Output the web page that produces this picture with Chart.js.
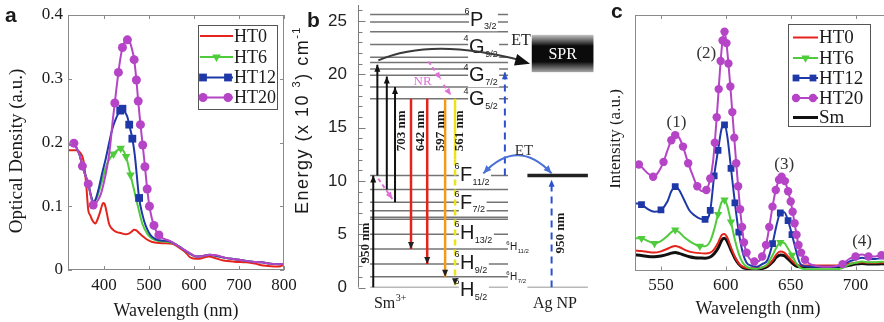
<!DOCTYPE html>
<html>
<head>
<meta charset="utf-8">
<script src="https://cdn.jsdelivr.net/npm/chart.js@4.4.1/dist/chart.umd.min.js"></script>
<style>
  html, body { margin: 0; padding: 0; background: #fff; overflow: hidden; }
  #wrap { position: relative; width: 884px; height: 322px; overflow: hidden; }
  canvas { position: absolute; top: 0; }
  #absorb { left: 0; }
  #levels { left: 290px; }
  #emission { left: 610px; }
</style>
</head>
<body>
<div id="wrap">
  <canvas id="absorb" width="300" height="322"></canvas>
  <canvas id="levels" width="320" height="322"></canvas>
  <canvas id="emission" width="290" height="322"></canvas>
</div>
<script>
// ---- (a) absorption spectra ----
const aXTicks = [400, 500, 600, 700, 800];
const aYTicks = [0, 0.1, 0.2, 0.3, 0.4];

const a0Wl = [320,330,337,343,348,352,356,359,361,363,365,370,374,381,386,390,395,398,401,404,408,411,416,422,430,437,448,455,461,467,472,478,486,493,500,507,530,552,567,581,591,600,610,620,632,650,665,690,717,735,754,770,784,792,800];
const a0Od = [0.188,0.188,0.188,0.187,0.183,0.178,0.165,0.145,0.13,0.11,0.094,0.085,0.078,0.073,0.08,0.088,0.1,0.105,0.104,0.097,0.083,0.073,0.066,0.062,0.059,0.058,0.056,0.057,0.06,0.063,0.062,0.058,0.053,0.049,0.046,0.044,0.042,0.041,0.035,0.028,0.02,0.018,0.0175,0.019,0.021,0.018,0.015,0.013,0.012,0.01,0.007,0.006,0.0055,0.006,0.008];

const a6Wl = [320,326,333,340,346,352,358,365,371,376,385,396,407,414,421,430,437,444,449,452,459,467,474,485,496,507,518,530,545,560,575,590,605,620,635,650,670,690,710,730,750,770,790,800];
const a6Od = [0.196,0.198,0.199,0.19,0.18,0.163,0.15,0.135,0.116,0.106,0.115,0.141,0.167,0.176,0.182,0.188,0.191,0.186,0.178,0.17,0.149,0.125,0.104,0.073,0.057,0.049,0.046,0.045,0.044,0.04,0.033,0.026,0.021,0.022,0.024,0.022,0.019,0.017,0.015,0.013,0.012,0.01,0.009,0.01];
const a6Marks = [421, 437, 449, 459];

const a12Wl = [320,326,333,340,346,352,358,365,371,376,382,389,396,404,411,418,424,430,436,441,448,452,456,460,463,467,470,474,478,485,490,496,503,511,520,530,545,560,575,590,605,620,635,650,670,690,710,730,750,770,790,800];
const a12Od = [0.196,0.198,0.199,0.19,0.18,0.163,0.15,0.135,0.117,0.107,0.112,0.13,0.152,0.175,0.198,0.22,0.233,0.243,0.25,0.253,0.246,0.24,0.228,0.216,0.206,0.188,0.17,0.14,0.113,0.088,0.075,0.064,0.055,0.05,0.047,0.046,0.045,0.04,0.033,0.026,0.021,0.022,0.024,0.022,0.019,0.017,0.015,0.013,0.012,0.01,0.009,0.01];
const a12Marks = [436, 441, 456, 463, 478];

const a20Wl = [320,326,333,340,346,352,358,365,371,376,381,387,393,400,407,413,419,424,428,432,436,441,446,452,457,462,467,472,476,481,486,491,496,501,506,511,516,522,530,545,560,575,590,605,620,635,650,670,690,710,730,750,770,790,800];
const a20Od = [0.196,0.198,0.199,0.19,0.18,0.163,0.15,0.135,0.115,0.102,0.104,0.11,0.119,0.138,0.162,0.19,0.232,0.262,0.287,0.31,0.33,0.349,0.358,0.361,0.358,0.347,0.33,0.298,0.265,0.228,0.196,0.162,0.127,0.1,0.082,0.07,0.061,0.055,0.05,0.046,0.04,0.033,0.027,0.021,0.022,0.024,0.023,0.019,0.017,0.015,0.013,0.012,0.01,0.009,0.01];
const a20Marks = [333, 352, 365, 376, 424, 432, 441, 452, 467, 472, 476, 481, 486, 491, 496, 501, 511, 522];

// ---- (c) emission spectra (arbitrary intensity, 0-100) ----
const cXTicks = [550, 600, 650, 700];
const cWl = [530,535,540,545,550,555,558,561,564,568,572,576,580,584,588,591,594,597,599,601,604,607,610,613,616,620,624,628,632,636,639,642,645,648,651,654,657,660,665,670,675,680,685,690,695,700,705,710,715,720,725];
const cHT0 = [7.8,7.6,7.2,7.0,7.5,8.5,9.2,9.6,9.2,8.2,7.4,7.0,6.8,6.7,7.0,8.3,10.8,14.0,14.3,13.0,9.0,5.4,2.8,1.5,1.0,0.9,0.9,1.2,2.0,4.0,6.3,7.4,7.0,5.5,3.8,2.5,2.0,2.0,2.0,2.0,2.0,2.0,2.0,2.1,2.6,3.0,3.2,3.0,3.0,3.1,3.0];
const cHT6 = [12.6,12.6,11.5,10.6,11.5,13.5,15.0,15.9,15.0,13.0,11.5,10.3,9.5,9.5,11.5,16.0,22.0,27.0,27.6,25.5,19.0,12.0,6.5,3.0,1.5,0.8,0.7,1.2,2.5,6.0,9.0,11.0,10.8,8.5,6.0,3.0,1.2,0.6,0.5,0.5,0.5,0.5,0.5,1.0,2.3,3.0,3.5,3.2,3.2,3.4,3.2];
const cHT12 = [26.3,25.8,24.0,23.0,23.7,27.0,31.0,32.8,31.5,27.5,23.5,21.5,20.3,20.0,23.5,37.0,47.0,56.0,57.0,53.0,40.0,26.5,15.0,7.0,3.0,1.8,1.5,2.5,4.0,10.5,17.5,22.5,22.8,19.5,14.0,8.0,3.0,1.8,1.5,1.5,1.5,1.5,1.5,2.2,3.5,4.3,5.0,4.5,4.5,4.8,4.5];
const cSm = [6.1,5.9,5.5,5.4,5.7,6.3,6.8,7.0,6.7,6.0,5.4,5.0,4.9,4.8,5.3,6.6,8.7,12.0,12.6,11.5,8.0,4.8,2.5,1.2,0.7,0.5,0.5,0.8,1.6,3.3,5.2,6.1,5.8,4.5,3.0,1.8,1.5,1.5,1.5,1.5,1.5,1.5,1.5,1.5,2.0,2.5,2.7,2.5,2.5,2.6,2.5];
const c20Wl = [530,533,536,540,544,548,552,555,558,561,564,567,571,575,578,582,585,588,590,591.5,593,594.5,596,597.5,599,600.5,602,603.5,605,606.5,608,609.5,611,612.5,614,616,618.5,622,625,628,631,633.5,636,638.5,641,643,645.5,648,650,651.5,653,654.5,656,658,661,665,670,675,680,685,690,695,700,705,710,715,720,725];
const cHT20 = [42,41.5,40,38,36.7,38.5,42.5,47,51,53,52,48.5,42,36.5,33,31,31.5,36,42,50,60,71,82,90,93.5,89,81,72,62,52,42,33,24,17,11,7,4.5,3.5,3.6,5.5,10,17,25,31.5,35.5,36.7,35,31,27,23,18.5,14,10,7,4.2,2.5,1.8,1.5,1.5,1.8,2.5,4.5,5.5,6.3,5.5,5.5,6,5.5];
const c6Marks = [535, 545, 561, 580, 594, 599, 604, 642, 651];
const c12Marks = [535, 550, 561, 584, 588, 591, 594, 599, 604, 607, 610, 636, 642, 648, 651];
const c20Marks = [533,544,552,558,561,567,571,578,585,588,591.5,593,594.5,596,597.5,599,600.5,602,603.5,605,606.5,608,609.5,611,612.5,614,616,622,628,631,633.5,636,638.5,641,643,645.5,648,650,651.5,653,654.5,656,658,661,690,700,710,720];
const peakTags = ['(1)', '(2)', '(3)', '(4)'];
const peakWl = [562, 585, 645, 705];
const peakAt = [58, 85, 41.3, 11.4];

// ---- (b) Sm3+ / Ag NP energy levels (x 10^3 cm^-1) ----
const bYTicks = [0, 5, 10, 15, 20, 25];
const smLevels = [0, 1.0, 2.2, 3.6, 5.0, 6.4, 6.6, 7.2, 8.0, 9.2, 10.5, 17.7, 18.8, 19.9, 20.5, 21.1, 21.6, 22.8, 24.0, 24.9, 25.6];
const agGround = 0, agLevel = 10.5;
const pumpE = [0, 10.5];
const excFrom = [10.5, 9.2, 8.0];
const excTo = [20.9, 19.8, 18.8];
const emitFrom = 17.7;
const emitTo = [3.6, 2.2, 1.0, 0.2];
const emitTags = ['703 nm', '642 nm', '597 nm', '561 nm'];
const termSup = ['6', '4', '4', '4', '6', '6', '6', '6', '6'];
const termMain = ['P', 'G', 'G', 'G', 'F', 'F', 'H', 'H', 'H'];
const termSub = ['3/2', '9/2', '7/2', '5/2', '11/2', '7/2', '13/2', '9/2', '5/2'];
const termE = [25.25, 22.67, 20.0, 17.75, 10.63, 8.05, 5.23, 2.42, -0.14];
const minorSub = ['11/2', '7/2'];
const minorE = [3.83, 1.0];

// diagram layout, x in 0..100 units
const LB = {
  sm: [5, 62], ag: [70, 95],
  pumpX: 6.3, excX: [8, 11.9, 15.3], emitX: [21.9, 28.6, 36, 40.1],
  tagX: [18.2, 26.0, 34.1, 41.9], tagE: 14.7,
  yellowBreak: 12,
  etUpX: 60.7, etUpTop: 20.2, agPumpX: 80, agPumpTop: 10.1,
  spr: [71.8, 97.3, 23.7, 20.2],
  termX: [46.3, 45.9, 45.9, 45.9, 42.1, 42.1, 42.1, 42.1, 42.1],
  minorX: 62.8,
  nr: [[8.4, 10.2, 14.2, 8.3], [29.1, 21.2, 34.2, 19.55], [35.4, 19.0, 38.4, 18.05]]
};

const SERIF = "'Liberation Serif', 'Times New Roman', serif";
const SANS = "'Liberation Sans', Arial, sans-serif";
const RED = '#e5231d', GREEN = '#4fcb3c', BLUE = '#1f38a8', MAGENTA = '#b545c6', BLACK = '#111111';
const INK = '#1a1a1a';

Chart.defaults.font.family = SERIF;
Chart.defaults.font.size = 17;
Chart.defaults.color = INK;
Chart.defaults.animation = false;
Chart.defaults.events = [];
Chart.defaults.plugins.legend.display = false;
Chart.defaults.plugins.tooltip.enabled = false;

function series(label, wl, val, color, o) {
  const marks = o.marks || [];
  return {
    label,
    data: wl.map((x, i) => ({ x, y: val[i] })),
    borderColor: color, backgroundColor: color, borderWidth: o.width || 2,
    pointStyle: o.style || 'circle', pointRotation: o.rotation || 0,
    pointRadius: ctx => (ctx.raw && marks.includes(ctx.raw.x)) ? o.radius : 0,
    pointBackgroundColor: color, pointBorderColor: color, pointBorderWidth: 0,
    cubicInterpolationMode: 'monotone',
    order: o.order || 0,
    legendMarks: o.legendMarks || 0, markRadius: o.radius || 0
  };
}

function marker(ctx, style, x, y, r, color) {
  ctx.fillStyle = color;
  ctx.beginPath();
  if (style === 'rect') {
    const s = r * Math.SQRT1_2;
    ctx.rect(x - s, y - s, 2 * s, 2 * s);
  } else if (style === 'triangle') { // apex down
    ctx.moveTo(x, y + r);
    ctx.lineTo(x - r * 0.866, y - r * 0.5);
    ctx.lineTo(x + r * 0.866, y - r * 0.5);
    ctx.closePath();
  } else {
    ctx.arc(x, y, r, 0, Math.PI * 2);
  }
  ctx.fill();
}

function text(ctx, str, x, y, font, color, align, rot, base) {
  ctx.save();
  ctx.translate(x, y);
  if (rot) ctx.rotate(rot);
  ctx.font = font; ctx.fillStyle = color || INK;
  ctx.textAlign = align || 'center'; ctx.textBaseline = base || 'middle';
  ctx.fillText(str, 0, 0);
  ctx.restore();
}

function makeTexts(items) {
  return {
    id: 'texts',
    afterDraw(chart) {
      items.forEach(it => text(chart.ctx, it.t, it.x, it.y, it.font, it.color, it.align, it.rot, it.base));
    }
  };
}

// box frame with inward ticks on all four sides
function makeFrame(xTicks, yTicks) {
  return {
    id: 'frame',
    afterDatasetsDraw(chart) {
      const { ctx, chartArea: a, scales: { x, y } } = chart;
      const len = 4;
      ctx.save();
      ctx.strokeStyle = '#8a8a8a'; ctx.lineWidth = 1;
      ctx.strokeRect(Math.round(a.left) + 0.5, Math.round(a.top) + 0.5, Math.round(a.width) - 1, Math.round(a.height) - 1);
      ctx.beginPath();
      xTicks.forEach(v => {
        const px = Math.round(x.getPixelForValue(v)) + 0.5;
        ctx.moveTo(px, a.bottom); ctx.lineTo(px, a.bottom - len);
        ctx.moveTo(px, a.top); ctx.lineTo(px, a.top + len);
      });
      yTicks.forEach(v => {
        const py = Math.round(y.getPixelForValue(v)) + 0.5;
        ctx.moveTo(a.left, py); ctx.lineTo(a.left + len, py);
        ctx.moveTo(a.right, py); ctx.lineTo(a.right - len, py);
      });
      ctx.stroke();
      ctx.restore();
    }
  };
}

function makeLegend(cfg) {
  return {
    id: 'boxLegend',
    afterDatasetsDraw(chart) {
      const ctx = chart.ctx;
      const [x0, y0, x1, y1] = cfg.box;
      ctx.save();
      ctx.fillStyle = '#fff';
      ctx.fillRect(x0, y0, x1 - x0, y1 - y0);
      ctx.strokeStyle = '#555'; ctx.lineWidth = 1;
      ctx.strokeRect(x0 + 0.5, y0 + 0.5, x1 - x0 - 1, y1 - y0 - 1);
      chart.data.datasets.forEach((ds, i) => {
        const y = cfg.rows[i], [l0, l1] = cfg.lineX;
        ctx.strokeStyle = ds.borderColor; ctx.lineWidth = ds.borderWidth;
        ctx.beginPath(); ctx.moveTo(l0, y); ctx.lineTo(l1, y); ctx.stroke();
        const xs = ds.legendMarks === 1 ? [(l0 + l1) / 2] : ds.legendMarks === 2 ? [l0 + 3, l1 - 5] : [];
        xs.forEach(px => marker(ctx, ds.pointStyle, px, y, ds.markRadius, ds.borderColor));
        ctx.fillStyle = INK; ctx.font = cfg.font;
        ctx.textAlign = 'left'; ctx.textBaseline = 'middle';
        ctx.fillText(ds.label, cfg.textX, y + 1);
      });
      ctx.restore();
    }
  };
}

const fixedTicks = arr => scale => { scale.ticks = arr.map(v => ({ value: v })); };
// keep the plot box where the layout padding puts it
const fixWidth = w => s => { s.width = w; s.paddingTop = 0; s.paddingBottom = 0; };
const fixHeight = h => s => { s.height = h; s.paddingLeft = 0; s.paddingRight = 0; };

// ---------- (a) ----------
new Chart(document.getElementById('absorb'), {
  type: 'line',
  data: {
    datasets: [
      series('HT0', a0Wl, a0Od, RED, { order: 3 }),
      series('HT6', a6Wl, a6Od, GREEN, { marks: a6Marks, style: 'triangle', rotation: 180, radius: 5, legendMarks: 1, order: 2 }),
      series('HT12', a12Wl, a12Od, BLUE, { marks: a12Marks, style: 'rect', radius: 5.5, legendMarks: 2, order: 1 }),
      series('HT20', a20Wl, a20Od, MAGENTA, { marks: a20Marks, style: 'circle', radius: 4.5, legendMarks: 2, order: 0 })
    ]
  },
  options: {
    responsive: false,
    layout: { padding: { top: 15, right: 16, left: 0, bottom: 0 } },
    scales: {
      x: {
        type: 'linear', min: 320, max: 800,
        afterBuildTicks: fixedTicks(aXTicks), afterFit: fixHeight(52),
        grid: { display: false, drawTicks: false }, border: { display: false },
        ticks: { padding: 5, callback: v => String(v) }
      },
      y: {
        type: 'linear', min: 0, max: 0.4,
        afterBuildTicks: fixedTicks(aYTicks), afterFit: fixWidth(68),
        grid: { display: false, drawTicks: false }, border: { display: false },
        ticks: { padding: 5, callback: v => String(v) }
      }
    }
  },
  plugins: [
    makeFrame(aXTicks, aYTicks),
    makeLegend({ box: [198, 25, 278, 110], rows: [36, 57, 77.5, 97.5], lineX: [200, 233], textX: 234, font: `18px ${SERIF}` }),
    makeTexts([
      { t: 'a', x: 5, y: 22, font: `bold 21px ${SANS}`, align: 'left', base: 'alphabetic' },
      { t: 'Wavelength (nm)', x: 176, y: 311, font: `18px ${SERIF}` },
      { t: 'Optical Density (a.u.)', x: 17, y: 151, font: `19px ${SERIF}`, rot: -Math.PI / 2 }
    ])
  ]
});

// ---------- (c) ----------
const peakPlugin = {
  id: 'peakTags',
  afterDatasetsDraw(chart) {
    const { ctx, scales: { x, y } } = chart;
    peakTags.forEach((t, i) => text(ctx, t, x.getPixelForValue(peakWl[i]), y.getPixelForValue(peakAt[i]), `17px ${SERIF}`, '#333'));
  }
};

new Chart(document.getElementById('emission'), {
  type: 'line',
  data: {
    datasets: [
      series('HT0', cWl, cHT0, RED, { order: 3 }),
      series('HT6', cWl, cHT6, GREEN, { marks: c6Marks, style: 'triangle', rotation: 180, radius: 4.8, legendMarks: 1, order: 2 }),
      series('HT12', cWl, cHT12, BLUE, { marks: c12Marks, style: 'rect', radius: 4.8, legendMarks: 2, order: 1 }),
      series('HT20', c20Wl, cHT20, MAGENTA, { marks: c20Marks, style: 'circle', radius: 4.2, legendMarks: 2, order: 0 }),
      series('Sm', cWl, cSm, BLACK, { width: 3, order: 4 })
    ]
  },
  options: {
    responsive: false,
    layout: { padding: { top: 15, right: 12, left: 25, bottom: 0 } },
    scales: {
      x: {
        type: 'linear', min: 530, max: 725,
        afterBuildTicks: fixedTicks(cXTicks), afterFit: fixHeight(51.5),
        grid: { display: false, drawTicks: false }, border: { display: false },
        ticks: { padding: 5, callback: v => String(v) }
      },
      y: { type: 'linear', min: 0, max: 100, display: false }
    }
  },
  plugins: [
    makeFrame(cXTicks, []),
    peakPlugin,
    makeLegend({ box: [178, 24, 261, 127], rows: [37.5, 58, 78, 98, 117.5], lineX: [183, 208], textX: 209, font: `19px ${SERIF}` }),
    makeTexts([
      { t: 'c', x: 1, y: 18, font: `bold 21px ${SANS}`, align: 'left', base: 'alphabetic' },
      { t: 'Wavelength (nm)', x: 148, y: 309, font: `18px ${SERIF}` },
      { t: 'Intensity (a.u.)', x: 6, y: 139, font: `17px ${SERIF}`, rot: -Math.PI / 2 }
    ])
  ]
});

// ---------- (b) ----------
function seg(x0, y0, x1, y1, color, width, dash, head) {
  return {
    data: [{ x: x0, y: y0 }, { x: x1, y: y1 }],
    borderColor: color, borderWidth: width, borderDash: dash || [],
    pointRadius: 0, tension: 0, head
  };
}

function arrowHead(ctx, x0, y0, x1, y1, color, len, w) {
  const ang = Math.atan2(y1 - y0, x1 - x0);
  ctx.save();
  ctx.translate(x1, y1); ctx.rotate(ang);
  ctx.fillStyle = color;
  ctx.beginPath();
  ctx.moveTo(0, 0); ctx.lineTo(-len, -w / 2); ctx.lineTo(-len, w / 2); ctx.closePath();
  ctx.fill();
  ctx.restore();
}

function termLabel(ctx, x, y, sup, main, sub, big, small, clear) {
  ctx.font = `${big}px ${SANS}`;
  const wm = ctx.measureText(main).width;
  ctx.font = `${small}px ${SANS}`;
  const ws = ctx.measureText(sup).width, wb = ctx.measureText(sub).width;
  if (clear) {
    ctx.fillStyle = '#fff';
    ctx.fillRect(x - 1, y - big * 0.42, wm + wb + 3, big * 0.84 + small * 0.5);
  }
  ctx.fillStyle = INK; ctx.textAlign = 'left'; ctx.textBaseline = 'alphabetic';
  ctx.font = `${big}px ${SANS}`;
  ctx.fillText(main, x, y + big * 0.36);
  ctx.font = `${small}px ${SANS}`;
  ctx.fillText(sup, x - ws - 0.5, y - big * 0.4 + small * 0.36);
  ctx.fillText(sub, x + wm + 0.5, y + big * 0.36 + small * 0.4);
}

const LEVEL = '#747474', PINK = '#e06fd6', DBLUE = '#2b52cc', ORANGE = '#f39a1e', YELLOW = '#ece31c';
const bData = [];
// transitions (first datasets are drawn on top)
bData.push(seg(LB.pumpX, pumpE[0], LB.pumpX, pumpE[1], BLACK, 2, null, BLACK));
excFrom.forEach((e, i) => bData.push(seg(LB.excX[i], e, LB.excX[i], excTo[i], BLACK, 2, null, BLACK)));
emitTo.forEach((e, i) => {
  const col = [RED, RED, ORANGE, YELLOW][i];
  if (i === 3) {
    bData.push(seg(LB.emitX[i], emitFrom, LB.emitX[i], LB.yellowBreak, col, 2.5));
    bData.push(seg(LB.emitX[i], LB.yellowBreak, LB.emitX[i], e, col, 2.5, [6, 4], '#222'));
  } else {
    bData.push(seg(LB.emitX[i], emitFrom, LB.emitX[i], e, col, 2.5, null, '#222'));
  }
});
LB.nr.forEach(n => bData.push(seg(n[0], n[1], n[2], n[3], PINK, 2, [4, 3], PINK)));
bData.push(seg(LB.etUpX, agLevel, LB.etUpX, LB.etUpTop, DBLUE, 2, [7, 5], DBLUE));
bData.push(seg(LB.agPumpX, agGround, LB.agPumpX, LB.agPumpTop, DBLUE, 2, [7, 5], DBLUE));
// Ag NP levels
bData.push(seg(LB.ag[0], agLevel, LB.ag[1], agLevel, '#222', 3.5));
bData.push(seg(LB.ag[0], agGround, LB.ag[1], agGround, LEVEL, 1.5));
// Sm3+ levels
smLevels.forEach(e => bData.push(seg(LB.sm[0], e, LB.sm[1], e, LEVEL, 1.5)));

const levelPlugin = {
  id: 'levelDiagram',
  beforeDatasetsDraw(chart) {
    const { ctx, chartArea: a, scales: { x, y } } = chart;
    ctx.save();
    ctx.strokeStyle = '#7b7b7b'; ctx.lineWidth = 1;
    const ax = Math.round(a.left) + 0.5;
    ctx.beginPath();
    ctx.moveTo(ax, y.getPixelForValue(0)); ctx.lineTo(ax, a.top);
    for (let e = 0; e <= 26; e++) {
      const py = Math.round(y.getPixelForValue(e)) + 0.5;
      ctx.moveTo(ax, py); ctx.lineTo(ax + (e % 5 ? 4 : 7), py);
    }
    ctx.stroke();
    // surface plasmon band
    const [u0, u1, e0, e1] = LB.spr;
    const bx = x.getPixelForValue(u0), bw = x.getPixelForValue(u1) - bx;
    const by = y.getPixelForValue(e0), bh = y.getPixelForValue(e1) - by;
    const g = ctx.createLinearGradient(0, by, 0, by + bh);
    g.addColorStop(0, '#c4c4c4'); g.addColorStop(0.3, '#0b0b0b');
    g.addColorStop(0.72, '#0b0b0b'); g.addColorStop(1, '#a8a8a8');
    ctx.fillStyle = g; ctx.fillRect(bx, by, bw, bh);
    text(ctx, 'SPR', bx + bw / 2, by + bh / 2 + 1, `16px ${SERIF}`, '#fff');
    ctx.restore();
  },
  afterDatasetsDraw(chart) {
    const { ctx, chartArea: a, scales: { x, y } } = chart;
    const X = v => x.getPixelForValue(v), Y = v => y.getPixelForValue(v);
    ctx.save();
    termMain.forEach((m, i) => termLabel(ctx, X(LB.termX[i]), Y(termE[i]), termSup[i], m, termSub[i], 20, 9, true));
    minorSub.forEach((s, i) => termLabel(ctx, X(LB.minorX), Y(minorE[i]), '6', 'H', s, 10, 6, false));

    chart.data.datasets.forEach((ds, i) => {
      if (!ds.head) return;
      const pts = chart.getDatasetMeta(i).data;
      const p0 = pts[0], p1 = pts[pts.length - 1];
      arrowHead(ctx, p0.x, p0.y, p1.x, p1.y, ds.head, 7, 6);
    });

    // energy transfer: Sm3+ -> SPR
    const s0 = { x: X(8.4), y: Y(21.3) }, sc = { x: X(30.6), y: Y(23.5) }, s1 = { x: X(71.1), y: Y(21.0) };
    ctx.strokeStyle = '#3a3a3a'; ctx.lineWidth = 2;
    ctx.beginPath(); ctx.moveTo(s0.x, s0.y); ctx.quadraticCurveTo(sc.x, sc.y, s1.x - 8, s1.y - 3); ctx.stroke();
    arrowHead(ctx, sc.x, sc.y, s1.x, s1.y, '#111', 15, 12);

    // energy transfer: Ag NP <-> 6F11/2
    const b0 = { x: X(80), y: Y(10.7) }, bc = { x: X(65.9), y: Y(14.1) }, b1 = { x: X(51.8), y: Y(10.7) };
    ctx.strokeStyle = '#4a6fd6'; ctx.lineWidth = 2;
    ctx.beginPath(); ctx.moveTo(b0.x, b0.y); ctx.quadraticCurveTo(bc.x, bc.y, b1.x, b1.y); ctx.stroke();
    arrowHead(ctx, bc.x, bc.y, b1.x, b1.y, '#4a6fd6', 8, 7);
    arrowHead(ctx, bc.x, bc.y, b0.x, b0.y, '#4a6fd6', 8, 7);

    emitTags.forEach((t, i) => text(ctx, t, X(LB.tagX[i]), Y(LB.tagE), `bold 13px ${SERIF}`, INK, 'center', -Math.PI / 2));
    text(ctx, '950 nm', X(3.1), Y(4.17), `bold 13px ${SERIF}`, INK, 'center', -Math.PI / 2);
    text(ctx, '950 nm', X(83.9), Y(5.1), `bold 13px ${SERIF}`, INK, 'center', -Math.PI / 2);
    text(ctx, 'ET', X(67.4), Y(23.1), `16px ${SERIF}`, INK);
    text(ctx, 'ET', X(68.6), Y(12.8), `15px ${SERIF}`, '#333');
    text(ctx, 'NR', X(26.7), Y(19.3), `13px ${SERIF}`, PINK);

    // species names under the diagram
    const yb = a.bottom + 16;
    ctx.font = `16px ${SERIF}`; const wSm = ctx.measureText('Sm').width;
    ctx.font = `10px ${SERIF}`; const wSup = ctx.measureText('3+').width;
    const sx = X(13.2) - (wSm + wSup) / 2;
    text(ctx, 'Sm', sx, yb, `16px ${SERIF}`, INK, 'left');
    text(ctx, '3+', sx + wSm + 0.5, yb - 5, `10px ${SERIF}`, INK, 'left');
    text(ctx, 'Ag NP', X(81.4), yb, `16px ${SERIF}`, INK);

    // energy axis title with super-scripts, slightly tracked
    ctx.save();
    ctx.translate(13, 214); ctx.rotate(-Math.PI / 2);
    ctx.fillStyle = INK; ctx.textAlign = 'left'; ctx.textBaseline = 'middle';
    let px = 0;
    [['Energy (x 10 ', 18, 0], ['3', 11, -6], [') cm', 18, 0], ['-1', 11, -6]].forEach(([t, size, dy]) => {
      ctx.font = `${size}px ${SANS}`;
      for (const ch of t) { ctx.fillText(ch, px, dy); px += ctx.measureText(ch).width + 1.5; }
    });
    ctx.restore();

    text(ctx, 'b', 17, 27, `bold 21px ${SANS}`, INK, 'left', 0, 'alphabetic');
    ctx.restore();
  }
};

new Chart(document.getElementById('levels'), {
  type: 'line',
  data: { datasets: bData },
  options: {
    responsive: false,
    layout: { padding: { top: 5, right: 10, bottom: 34.5, left: 0 } },
    scales: {
      x: { type: 'linear', min: 0, max: 100, display: false },
      y: {
        type: 'linear', min: 0, max: 26.5,
        afterBuildTicks: fixedTicks(bYTicks), afterFit: fixWidth(68),
        grid: { display: false, drawTicks: false }, border: { display: false },
        ticks: { padding: 11, font: { family: SANS, size: 17 }, color: '#222' }
      }
    }
  },
  plugins: [levelPlugin]
});
</script>
</body>
</html>
